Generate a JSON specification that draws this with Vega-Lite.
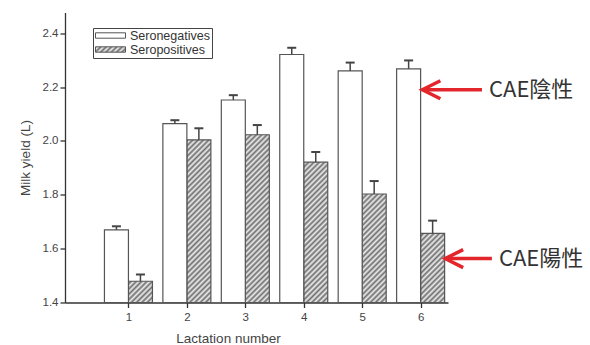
{
  "$schema": "https://vega.github.io/schema/vega-lite/v6.json",
  "width": 383,
  "height": 290,
  "autosize": {"type": "none"},
  "padding": {"left": 65, "top": 12.5, "right": 142, "bottom": 42.5},
  "background": "white",
  "config": {"view": {"stroke": null}, "axis": {"grid": false}, "font": "Liberation Sans"},
  "datasets": {
    "milk": [
      {"lac": 1, "group": "Seronegatives", "mean": 1.670, "upper": 1.683},
      {"lac": 1, "group": "Seropositives", "mean": 1.479, "upper": 1.504},
      {"lac": 2, "group": "Seronegatives", "mean": 2.064, "upper": 2.077},
      {"lac": 2, "group": "Seropositives", "mean": 2.004, "upper": 2.047},
      {"lac": 3, "group": "Seronegatives", "mean": 2.152, "upper": 2.170},
      {"lac": 3, "group": "Seropositives", "mean": 2.023, "upper": 2.059},
      {"lac": 4, "group": "Seronegatives", "mean": 2.321, "upper": 2.346},
      {"lac": 4, "group": "Seropositives", "mean": 1.921, "upper": 1.959},
      {"lac": 5, "group": "Seronegatives", "mean": 2.260, "upper": 2.291},
      {"lac": 5, "group": "Seropositives", "mean": 1.803, "upper": 1.851},
      {"lac": 6, "group": "Seronegatives", "mean": 2.268, "upper": 2.299},
      {"lac": 6, "group": "Seropositives", "mean": 1.657, "upper": 1.704}
    ],
    "notes": [
      {"label": "CAE陰性", "tip": 6.03, "tail": 7.05, "y": 2.19},
      {"label": "CAE陽性", "tip": 6.42, "tail": 7.22, "y": 1.563}
    ]
  },
  "layer": [
    {
      "data": {"name": "milk"},
      "transform": [{"filter": "datum.group === 'Seropositives'"}],
      "mark": {
        "type": "bar", "orient": "vertical", "width": 24, "xOffset": 12, "stroke": null,
        "fill": {
          "gradient": "linear", "x1": 0, "y1": 0, "x2": 0.14125, "y2": 1.1094,
          "stops": [
            {"offset": 0, "color": "#6e6e6e"}, {"offset": 0.0125, "color": "#eeeeee"},
            {"offset": 0.025, "color": "#6e6e6e"}, {"offset": 0.0375, "color": "#eeeeee"},
            {"offset": 0.05, "color": "#6e6e6e"}, {"offset": 0.0625, "color": "#eeeeee"},
            {"offset": 0.075, "color": "#6e6e6e"}, {"offset": 0.0875, "color": "#eeeeee"},
            {"offset": 0.1, "color": "#6e6e6e"}, {"offset": 0.1125, "color": "#eeeeee"},
            {"offset": 0.125, "color": "#6e6e6e"}, {"offset": 0.1375, "color": "#eeeeee"},
            {"offset": 0.15, "color": "#6e6e6e"}, {"offset": 0.1625, "color": "#eeeeee"},
            {"offset": 0.175, "color": "#6e6e6e"}, {"offset": 0.1875, "color": "#eeeeee"},
            {"offset": 0.2, "color": "#6e6e6e"}, {"offset": 0.2125, "color": "#eeeeee"},
            {"offset": 0.225, "color": "#6e6e6e"}, {"offset": 0.2375, "color": "#eeeeee"},
            {"offset": 0.25, "color": "#6e6e6e"}, {"offset": 0.2625, "color": "#eeeeee"},
            {"offset": 0.275, "color": "#6e6e6e"}, {"offset": 0.2875, "color": "#eeeeee"},
            {"offset": 0.3, "color": "#6e6e6e"}, {"offset": 0.3125, "color": "#eeeeee"},
            {"offset": 0.325, "color": "#6e6e6e"}, {"offset": 0.3375, "color": "#eeeeee"},
            {"offset": 0.35, "color": "#6e6e6e"}, {"offset": 0.3625, "color": "#eeeeee"},
            {"offset": 0.375, "color": "#6e6e6e"}, {"offset": 0.3875, "color": "#eeeeee"},
            {"offset": 0.4, "color": "#6e6e6e"}, {"offset": 0.4125, "color": "#eeeeee"},
            {"offset": 0.425, "color": "#6e6e6e"}, {"offset": 0.4375, "color": "#eeeeee"},
            {"offset": 0.45, "color": "#6e6e6e"}, {"offset": 0.4625, "color": "#eeeeee"},
            {"offset": 0.475, "color": "#6e6e6e"}, {"offset": 0.4875, "color": "#eeeeee"},
            {"offset": 0.5, "color": "#6e6e6e"}, {"offset": 0.5125, "color": "#eeeeee"},
            {"offset": 0.525, "color": "#6e6e6e"}, {"offset": 0.5375, "color": "#eeeeee"},
            {"offset": 0.55, "color": "#6e6e6e"}, {"offset": 0.5625, "color": "#eeeeee"},
            {"offset": 0.575, "color": "#6e6e6e"}, {"offset": 0.5875, "color": "#eeeeee"},
            {"offset": 0.6, "color": "#6e6e6e"}, {"offset": 0.6125, "color": "#eeeeee"},
            {"offset": 0.625, "color": "#6e6e6e"}, {"offset": 0.6375, "color": "#eeeeee"},
            {"offset": 0.65, "color": "#6e6e6e"}, {"offset": 0.6625, "color": "#eeeeee"},
            {"offset": 0.675, "color": "#6e6e6e"}, {"offset": 0.6875, "color": "#eeeeee"},
            {"offset": 0.7, "color": "#6e6e6e"}, {"offset": 0.7125, "color": "#eeeeee"},
            {"offset": 0.725, "color": "#6e6e6e"}, {"offset": 0.7375, "color": "#eeeeee"},
            {"offset": 0.75, "color": "#6e6e6e"}, {"offset": 0.7625, "color": "#eeeeee"},
            {"offset": 0.775, "color": "#6e6e6e"}, {"offset": 0.7875, "color": "#eeeeee"},
            {"offset": 0.8, "color": "#6e6e6e"}, {"offset": 0.8125, "color": "#eeeeee"},
            {"offset": 0.825, "color": "#6e6e6e"}, {"offset": 0.8375, "color": "#eeeeee"},
            {"offset": 0.85, "color": "#6e6e6e"}, {"offset": 0.8625, "color": "#eeeeee"},
            {"offset": 0.875, "color": "#6e6e6e"}, {"offset": 0.8875, "color": "#eeeeee"},
            {"offset": 0.9, "color": "#6e6e6e"}, {"offset": 0.9125, "color": "#eeeeee"},
            {"offset": 0.925, "color": "#6e6e6e"}, {"offset": 0.9375, "color": "#eeeeee"},
            {"offset": 0.95, "color": "#6e6e6e"}, {"offset": 0.9625, "color": "#eeeeee"},
            {"offset": 0.975, "color": "#6e6e6e"}, {"offset": 0.9875, "color": "#eeeeee"},
            {"offset": 1, "color": "#6e6e6e"}
          ]
        }
      },
      "encoding": {
        "x": {
          "field": "lac", "type": "quantitative",
          "scale": {"domain": [0, 6.383], "nice": false, "zero": false},
          "axis": {
            "title": "Lactation number", "values": [1, 2, 3, 4, 5, 6], "format": "d",
            "tickSize": 5, "tickColor": "#333", "tickWidth": 1.3,
            "domainColor": "#333", "domainWidth": 1.3,
            "labelFontSize": 11.5, "labelColor": "#444", "labelPadding": 4,
            "titleFontSize": 13.5, "titleFontWeight": "normal", "titleColor": "#444",
            "titlePadding": 8, "titleX": 163
          }
        },
        "y": {
          "datum": 2.1, "type": "quantitative", "stack": null,
          "scale": {"domain": [1.4, 2.477], "nice": false, "zero": false},
          "axis": {
            "title": "Milk yield (L)",
            "values": [1.4, 1.5, 1.6, 1.7, 1.8, 1.9, 2.0, 2.1, 2.2, 2.3, 2.4],
            "labelExpr": "round(datum.value*10) % 2 == 0 ? format(datum.value, '.1f') : ''",
            "labelOverlap": false,
            "tickSize": 5, "tickColor": "#333", "tickWidth": 1.3,
            "domainColor": "#333", "domainWidth": 1.3,
            "labelFontSize": 11.5, "labelColor": "#444", "labelPadding": 2,
            "titleFontSize": 13.5, "titleFontWeight": "normal", "titleColor": "#444",
            "titlePadding": 10,
            "encoding": {"ticks": {"x2": {"value": {"expr": "round(datum.value*10) % 2 == 0 ? -5 : -2.5"}}}}
          }
        }
      }
    },
    {
      "data": {"name": "milk"},
      "transform": [{"filter": "datum.group === 'Seropositives'"}],
      "mark": {"type": "bar", "orient": "vertical", "width": 26, "xOffset": 12, "fill": "white", "stroke": null},
      "encoding": {
        "x": {"field": "lac", "type": "quantitative", "scale": {"domain": [0, 6.383], "nice": false, "zero": false}},
        "y": {"field": "mean", "type": "quantitative", "stack": null, "scale": {"domain": [1.4, 2.477], "nice": false, "zero": false}},
        "y2": {"datum": 2.12}
      }
    },
    {
      "data": {"name": "milk"},
      "transform": [{"filter": "datum.group === 'Seropositives'"}],
      "mark": {"type": "bar", "orient": "vertical", "width": 24, "xOffset": 12, "fill": "transparent", "stroke": "#555", "strokeWidth": 1.2},
      "encoding": {
        "x": {"field": "lac", "type": "quantitative", "scale": {"domain": [0, 6.383], "nice": false, "zero": false}},
        "y": {"field": "mean", "type": "quantitative", "stack": null, "scale": {"domain": [1.4, 2.477], "nice": false, "zero": false}}
      }
    },
    {
      "data": {"name": "milk"},
      "transform": [{"filter": "datum.group === 'Seronegatives'"}],
      "mark": {"type": "bar", "orient": "vertical", "width": 24, "xOffset": -12, "stroke": "#555", "strokeWidth": 1.2},
      "encoding": {
        "x": {"field": "lac", "type": "quantitative", "scale": {"domain": [0, 6.383], "nice": false, "zero": false}},
        "y": {"field": "mean", "type": "quantitative", "stack": null, "scale": {"domain": [1.4, 2.477], "nice": false, "zero": false}},
        "fill": {
          "field": "group", "type": "nominal",
          "scale": {"domain": ["Seronegatives", "Seropositives"], "range": ["white", {"expr": "{gradient: 'linear', x1: 0, y1: 0, x2: 1.143, y2: 0.206, stops: [{offset: 0, color: '#6e6e6e'}, {offset: 0.075, color: '#eeeeee'}, {offset: 0.15, color: '#6e6e6e'}, {offset: 0.225, color: '#eeeeee'}, {offset: 0.3, color: '#6e6e6e'}, {offset: 0.375, color: '#eeeeee'}, {offset: 0.45, color: '#6e6e6e'}, {offset: 0.525, color: '#eeeeee'}, {offset: 0.6, color: '#6e6e6e'}, {offset: 0.675, color: '#eeeeee'}, {offset: 0.75, color: '#6e6e6e'}, {offset: 0.825, color: '#eeeeee'}, {offset: 0.9, color: '#6e6e6e'}, {offset: 0.975, color: '#eeeeee'}]}"}]},
          "legend": {
            "title": null, "orient": "none", "legendX": 28, "legendY": 15.5, "direction": "vertical",
            "symbolType": "M-1,-0.18H1V0.18H-1Z", "symbolSize": 900,
            "symbolStrokeColor": "#555", "symbolStrokeWidth": 1,
            "clipHeight": 11, "rowPadding": 1, "padding": 2,
            "strokeColor": "#444", "fillColor": "white",
            "labelFontSize": 12.5, "labelColor": "#333", "labelOffset": 4
          }
        }
      }
    },
    {
      "data": {"name": "milk"},
      "transform": [{"filter": "datum.group === 'Seronegatives'"}],
      "mark": {"type": "rule", "xOffset": -12, "x2Offset": -12, "stroke": "#444", "strokeWidth": 1.5},
      "encoding": {
        "x": {"field": "lac", "type": "quantitative", "scale": {"domain": [0, 6.383], "nice": false, "zero": false}},
        "y": {"field": "mean", "type": "quantitative", "scale": {"domain": [1.4, 2.477], "nice": false, "zero": false}},
        "y2": {"field": "upper"}
      }
    },
    {
      "data": {"name": "milk"},
      "transform": [{"filter": "datum.group === 'Seropositives'"}],
      "mark": {"type": "rule", "xOffset": 12, "x2Offset": 12, "stroke": "#444", "strokeWidth": 1.5},
      "encoding": {
        "x": {"field": "lac", "type": "quantitative", "scale": {"domain": [0, 6.383], "nice": false, "zero": false}},
        "y": {"field": "mean", "type": "quantitative", "scale": {"domain": [1.4, 2.477], "nice": false, "zero": false}},
        "y2": {"field": "upper"}
      }
    },
    {
      "data": {"name": "milk"},
      "transform": [{"filter": "datum.group === 'Seronegatives'"}],
      "mark": {"type": "tick", "orient": "horizontal", "size": 9, "thickness": 2, "xOffset": -12, "color": "#444", "opacity": 1},
      "encoding": {
        "x": {"field": "lac", "type": "quantitative", "scale": {"domain": [0, 6.383], "nice": false, "zero": false}},
        "y": {"field": "upper", "type": "quantitative", "scale": {"domain": [1.4, 2.477], "nice": false, "zero": false}}
      }
    },
    {
      "data": {"name": "milk"},
      "transform": [{"filter": "datum.group === 'Seropositives'"}],
      "mark": {"type": "tick", "orient": "horizontal", "size": 9, "thickness": 2, "xOffset": 12, "color": "#444", "opacity": 1},
      "encoding": {
        "x": {"field": "lac", "type": "quantitative", "scale": {"domain": [0, 6.383], "nice": false, "zero": false}},
        "y": {"field": "upper", "type": "quantitative", "scale": {"domain": [1.4, 2.477], "nice": false, "zero": false}}
      }
    },
    {
      "data": {"name": "notes"},
      "mark": {"type": "rule", "xOffset": 2, "stroke": "#e3262b", "strokeWidth": 3.5},
      "encoding": {
        "x": {"field": "tip", "type": "quantitative", "scale": {"domain": [0, 6.383], "nice": false, "zero": false}},
        "x2": {"field": "tail"},
        "y": {"field": "y", "type": "quantitative", "scale": {"domain": [1.4, 2.477], "nice": false, "zero": false}}
      }
    },
    {
      "data": {"name": "notes"},
      "mark": {"type": "point", "shape": "M1,-1L-1,0L1,1", "size": 324, "filled": false, "xOffset": 9, "stroke": "#e3262b", "strokeWidth": 3.5, "strokeJoin": "miter", "opacity": 1},
      "encoding": {
        "x": {"field": "tip", "type": "quantitative", "scale": {"domain": [0, 6.383], "nice": false, "zero": false}},
        "y": {"field": "y", "type": "quantitative", "scale": {"domain": [1.4, 2.477], "nice": false, "zero": false}}
      }
    },
    {
      "data": {"name": "notes"},
      "mark": {"type": "text", "align": "left", "baseline": "middle", "dx": 7, "font": "Noto Sans CJK TC", "fontSize": 22, "fill": "#333"},
      "encoding": {
        "x": {"field": "tail", "type": "quantitative", "scale": {"domain": [0, 6.383], "nice": false, "zero": false}},
        "y": {"field": "y", "type": "quantitative", "scale": {"domain": [1.4, 2.477], "nice": false, "zero": false}},
        "text": {"field": "label"}
      }
    }
  ]
}
